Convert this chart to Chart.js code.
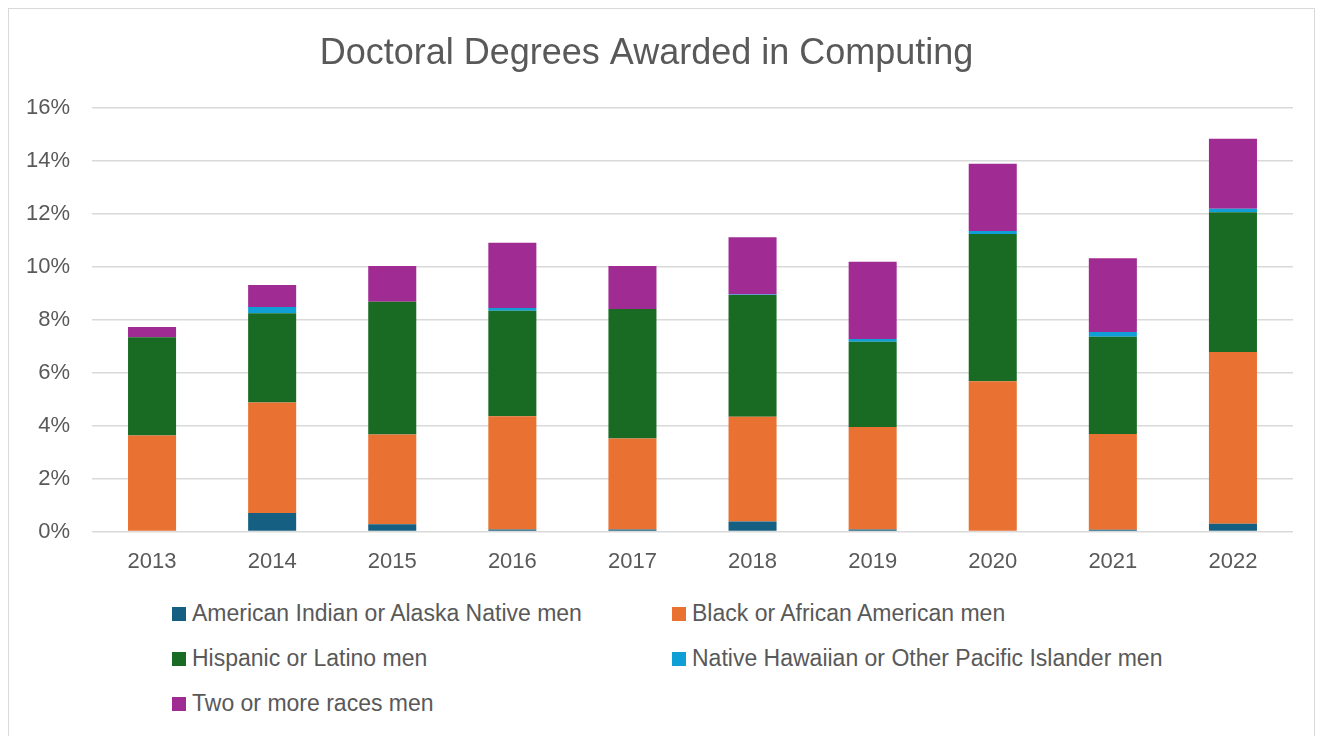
<!DOCTYPE html>
<html>
<head>
<meta charset="utf-8">
<script src="https://cdn.jsdelivr.net/npm/chart.js@4"></script>
<style>
  html, body { margin: 0; padding: 0; background: #fff; overflow: hidden; }
  body { width: 1320px; height: 736px; position: relative; font-family: "Liberation Sans", Arial, sans-serif; }
  #frame { position: absolute; left: 8px; top: 8px; width: 1305px; height: 800px; border: 1px solid #d9d9d9; }
  #wrap { position: absolute; left: 0; top: 0; width: 1320px; height: 600px; }
  #legend { position: absolute; left: 172px; top: 600px; width: 1100px; }
  .item { position: absolute; display: flex; align-items: center; font-size: 23px; color: #595959; white-space: nowrap; }
  .item span.box { width: 14px; height: 14px; margin-right: 6px; display: inline-block; }
</style>
</head>
<body>
<div id="frame"></div>
<div id="wrap"><canvas id="chart"></canvas></div>
<div id="legend"></div>
<script>
const years = ["2013", "2014", "2015", "2016", "2017", "2018", "2019", "2020", "2021", "2022"];

// share of doctoral degrees in computing, percent
const americanIndian = [0.00, 0.70, 0.28, 0.08, 0.08, 0.38, 0.08, 0.00, 0.07, 0.30];
const black          = [3.63, 4.18, 3.39, 4.28, 3.44, 3.96, 3.87, 5.68, 3.62, 6.49];
const hispanic       = [3.71, 3.37, 5.02, 3.99, 4.89, 4.60, 3.22, 5.57, 3.67, 5.28];
const nativeHawaiian = [0.00, 0.24, 0.00, 0.10, 0.00, 0.02, 0.11, 0.11, 0.18, 0.13];
const twoOrMore      = [0.39, 0.83, 1.35, 2.47, 1.63, 2.16, 2.92, 2.54, 2.79, 2.65];

const seriesNames = [
  "American Indian or Alaska Native men",
  "Black or African American men",
  "Hispanic or Latino men",
  "Native Hawaiian or Other Pacific Islander men",
  "Two or more races men"
];
const seriesColors = ["#156082", "#e97132", "#196b24", "#0f9ed5", "#a02b93"];
const seriesData = [americanIndian, black, hispanic, nativeHawaiian, twoOrMore];

const textColor = "#595959";
const font = "'Liberation Sans', Arial, sans-serif";

const chart = new Chart(document.getElementById("chart"), {
  type: "bar",
  data: {
    labels: years,
    datasets: seriesNames.map((name, i) => ({
      label: name,
      data: seriesData[i],
      backgroundColor: seriesColors[i],
      borderWidth: 0,
      categoryPercentage: 1,
      barPercentage: 0.4
    }))
  },
  options: {
    responsive: true,
    maintainAspectRatio: false,
    animation: false,
    layout: { padding: { left: 0, right: 27, top: 0, bottom: 8 } },
    plugins: {
      legend: { display: false },
      tooltip: { enabled: false },
      title: {
        display: true,
        text: "Doctoral Degrees Awarded in Computing",
        color: textColor,
        font: { family: font, size: 36, weight: "normal" },
        padding: { top: 32, bottom: 33 }
      }
    },
    scales: {
      x: {
        stacked: true,
        grid: { display: false, drawTicks: false },
        border: { display: false },
        ticks: { color: textColor, font: { family: font, size: 22 }, padding: 17, maxRotation: 0 }
      },
      y: {
        stacked: true,
        min: 0,
        max: 16,
        grid: { color: "#d9d9d9", lineWidth: 1.5, drawTicks: false },
        border: { display: false },
        ticks: {
          stepSize: 2,
          color: textColor,
          font: { family: font, size: 22 },
          padding: 22,
          callback: (v) => v + "%"
        },
        afterFit: (scale) => { scale.width = 92; }
      }
    }
  }
});

// legend in two columns, like the original
const legend = document.getElementById("legend");
seriesNames.forEach((name, i) => {
  const row = document.createElement("div");
  row.className = "item";
  row.style.left = (i % 2) * 500 + "px";
  row.style.top = Math.floor(i / 2) * 45 + "px";
  row.innerHTML = `<span class="box" style="background:${seriesColors[i]}"></span>${name}`;
  legend.appendChild(row);
});
</script>
</body>
</html>
